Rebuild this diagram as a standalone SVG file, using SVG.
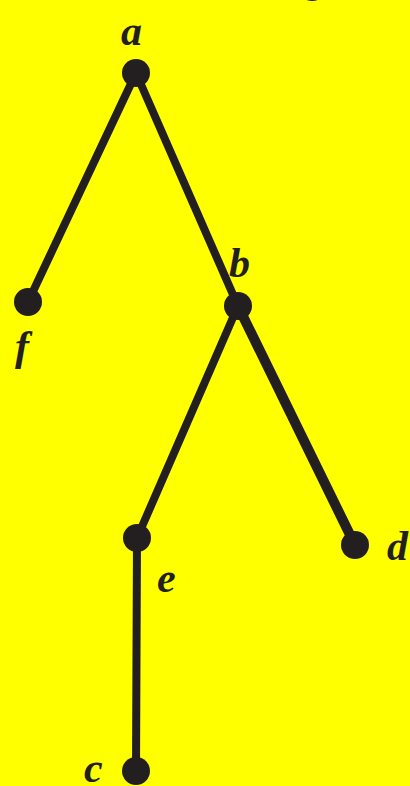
<svg xmlns="http://www.w3.org/2000/svg" width="410" height="786" viewBox="0 0 410 786">
<style>
.e{stroke:#231f20;stroke-width:8;stroke-linecap:round;fill:none}
.n{fill:#231f20}
.l{font-family:"Liberation Serif",serif;font-style:italic;font-weight:bold;font-size:42px;fill:#231f20}
</style>
<rect width="410" height="786" fill="#ffff00"/>
<g id="connectors">
<line class="e" x1="136" y1="73" x2="28" y2="302"/>
<line class="e" x1="136" y1="73" x2="238" y2="306"/>
<line class="e" x1="238" y1="306" x2="137" y2="538"/>
<line class="e" x1="238" y1="306" x2="355" y2="545" style="stroke-width:10"/>
<line class="e" x1="137" y1="538" x2="136" y2="771"/>
</g>
<g id="node-a"><circle class="n" cx="136" cy="73" r="14"/><text class="l" x="121" y="45">a</text></g>
<g id="node-f"><circle class="n" cx="28" cy="302" r="14"/><text class="l" x="15" y="360">f</text></g>
<g id="node-b"><circle class="n" cx="238" cy="306" r="14"/><text class="l" x="229" y="277">b</text></g>
<g id="node-e"><circle class="n" cx="137" cy="538" r="14"/><text class="l" x="157" y="592">e</text></g>
<g id="node-d"><circle class="n" cx="355" cy="545" r="14"/><text class="l" x="387" y="560">d</text></g>
<g id="node-c"><circle class="n" cx="136" cy="771" r="14"/><text class="l" x="84" y="782">c</text></g>
<g id="node-g"><text class="l" x="306" y="-8">g</text></g>
</svg>
